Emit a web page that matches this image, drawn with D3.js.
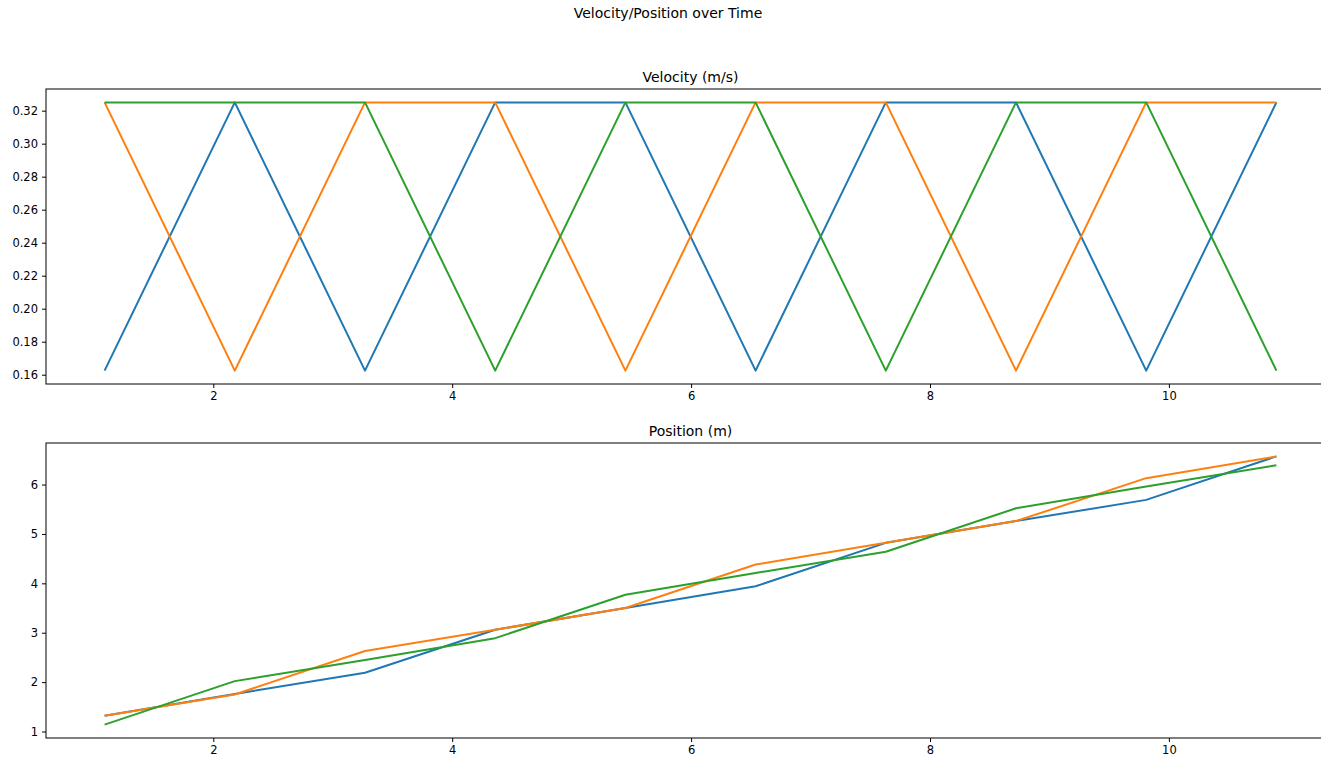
<!DOCTYPE html>
<html>
<head>
<meta charset="utf-8">
<script src="https://cdn.jsdelivr.net/npm/d3@7"></script>
<style>
  body { margin: 0; background: #fff; }
  svg { display: block; font-family: "DejaVu Sans", sans-serif; }
</style>
</head>
<body>
<svg id="chart" width="1321" height="759"></svg>
<script>
// time stamps (s)
const time = [1.09, 2.18, 3.27, 4.36, 5.45, 6.54, 7.63, 8.72, 9.81, 10.9]

// velocity per runner (m/s)
const velBlue   = [0.1625, 0.325, 0.1625, 0.325, 0.325, 0.1625, 0.325, 0.325, 0.1625, 0.325]
const velOrange = [0.325, 0.1625, 0.325, 0.325, 0.1625, 0.325, 0.325, 0.1625, 0.325, 0.325]
const velGreen  = [0.325, 0.325, 0.325, 0.1625, 0.325, 0.325, 0.1625, 0.325, 0.325, 0.1625]

// position per runner (m)
const posBlue   = [1.32, 1.76, 2.19, 3.06, 3.50, 3.94, 4.82, 5.26, 5.69, 6.57]
const posOrange = [1.32, 1.75, 2.63, 3.06, 3.50, 4.38, 4.82, 5.26, 6.13, 6.57]
const posGreen  = [1.14, 2.02, 2.45, 2.89, 3.77, 4.21, 4.64, 5.52, 5.96, 6.39]

const colors = ['#1f77b4', '#ff7f0e', '#2ca02c']

const velTicks = [0.16, 0.18, 0.20, 0.22, 0.24, 0.26, 0.28, 0.30, 0.32]
const posTicks = [1, 2, 3, 4, 5, 6]
const timeTicks = [2, 4, 6, 8, 10]

const svg = d3.select('#chart')

// figure title
svg.append('text')
  .attr('x', 668).attr('y', 18)
  .attr('text-anchor', 'middle')
  .style('font-size', '14px')
  .text('Velocity/Position over Time')

// matplotlib-like padding of 5% on each side
function padded(lo, hi) {
  const m = (hi - lo) * 0.05
  return [lo - m, hi + m]
}

function drawPanel(top, bottom, title, series, yTicks, yFmt) {
  const left = 46, right = 1335
  const x = d3.scaleLinear()
    .domain(padded(d3.min(time), d3.max(time)))
    .range([left, right])
  const all = series.flat()
  const y = d3.scaleLinear()
    .domain(padded(d3.min(all), d3.max(all)))
    .range([bottom, top])

  const g = svg.append('g')

  const line = d3.line()
    .x((d, i) => x(time[i]))
    .y(d => y(d))

  series.forEach((s, i) => {
    g.append('path')
      .datum(s)
      .attr('d', line)
      .attr('fill', 'none')
      .attr('stroke', colors[i])
      .attr('stroke-width', 2)
      .attr('stroke-linejoin', 'round')
  })

  // frame
  g.append('rect')
    .attr('x', left).attr('y', top)
    .attr('width', right - left).attr('height', bottom - top)
    .attr('fill', 'none')
    .attr('stroke', '#000')
    .attr('stroke-width', 1)

  const xAxis = g.append('g')
    .attr('transform', `translate(0,${bottom})`)
    .call(d3.axisBottom(x).tickValues(timeTicks).tickSize(4).tickPadding(4).tickFormat(d3.format('d')))
  const yAxis = g.append('g')
    .attr('transform', `translate(${left},0)`)
    .call(d3.axisLeft(y).tickValues(yTicks).tickSize(4).tickPadding(4).tickFormat(yFmt))

  ;[xAxis, yAxis].forEach(a => {
    a.select('.domain').remove()
    a.selectAll('text')
      .style('font-size', '11.5px')
      .style('font-family', '"DejaVu Sans", sans-serif')
      .attr('fill', '#000')
    a.selectAll('line').attr('stroke', '#000')
  })

  g.append('text')
    .attr('x', (left + right) / 2).attr('y', top - 7)
    .attr('text-anchor', 'middle')
    .style('font-size', '14px')
    .text(title)
}

drawPanel(89, 384, 'Velocity (m/s)', [velBlue, velOrange, velGreen], velTicks, d3.format('.2f'))
drawPanel(443, 738, 'Position (m)', [posBlue, posOrange, posGreen], posTicks, d3.format('d'))
</script>
</body>
</html>
